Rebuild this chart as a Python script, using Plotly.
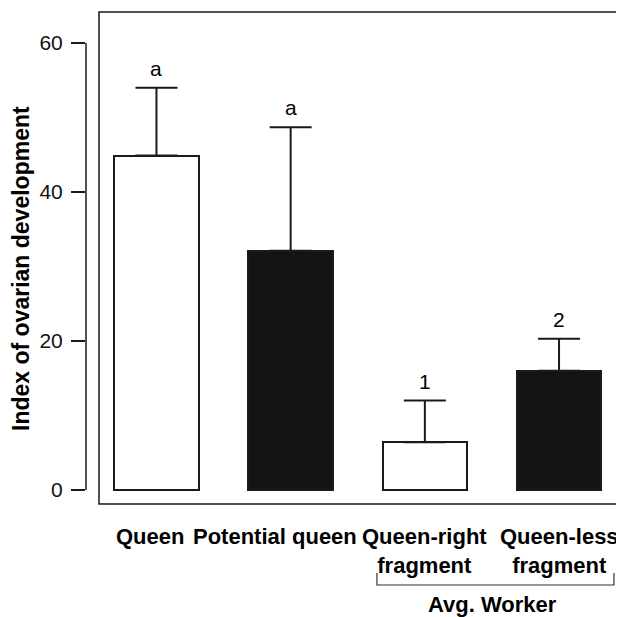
import plotly.graph_objects as go

categories = ["Queen", "Potential queen", "Queen-right<br>fragment", "Queen-less<br>fragment"]
means = [44.9, 32.1, 6.4, 16.0]
errors = [9.1, 16.6, 5.6, 4.3]
letters = ["a", "a", "1", "2"]
fills = ["white", "#141414", "white", "#141414"]
y_ticks = [0, 20, 40, 60]
group_label = "Avg. Worker"

FONT = "Liberation Sans, Arial, Helvetica, sans-serif"
INK = "#1a1a1a"

xpos = list(range(len(categories)))

PW = 546  # plot width in px
PH = 492  # plot height in px
XS = 134.2  # px per category

fig = go.Figure()
fig.add_trace(go.Bar(
    x=xpos, y=means, width=0.63,
    marker=dict(color=fills, line=dict(color=INK, width=2)),
    error_y=dict(type="data", symmetric=False, array=errors,
                 arrayminus=[0] * len(errors), color=INK,
                 thickness=2, width=21),
    showlegend=False, hoverinfo="skip",
))

for i, (m, e, t) in enumerate(zip(means, errors, letters)):
    fig.add_annotation(x=i, y=m + e, text=t, showarrow=False,
                       yanchor="bottom", yshift=6,
                       font=dict(family=FONT, size=21, color="#000"))

# category labels (first two are shifted left in the original to avoid overlap)
label_anchor = [("left", -0.317), ("left", 0.257), ("center", 2.0), ("center", 3.0)]
for c, (anc, lx) in zip(categories, label_anchor):
    fig.add_annotation(x=lx, y=-0.036, xref="x", yref="paper", text=f"<b>{c}</b>",
                       showarrow=False, xanchor=anc, yanchor="top",
                       font=dict(family=FONT, size=22, color="#000"))

# y axis line (0..60), offset from frame
fig.add_shape(type="line", xref="paper", yref="y", x0=0, x1=0,
              y0=y_ticks[0], y1=y_ticks[-1], line=dict(color=INK, width=1.5))

# frame (open at the right edge of the image)
fx = 13 / PW
fig.add_shape(type="path", xref="paper", yref="paper",
              path=f"M 1.05,1 L {fx},1 L {fx},0 L 1.05,0",
              line=dict(color=INK, width=1.5))

# bracket under worker groups
fig.add_shape(type="path", xref="x", yref="paper",
              path="M 1.643,-0.140 L 1.643,-0.1646 L 3.409,-0.1646 L 3.409,-0.140",
              line=dict(color="#333", width=1.2))
fig.add_annotation(x=2.507, y=-0.205, xref="x", yref="paper", text=f"<b>{group_label}</b>",
                   showarrow=False, xanchor="center", yanchor="middle",
                   font=dict(family=FONT, size=22, color="#000"))

# y title
fig.add_annotation(x=(21 - 86) / PW, y=(504 - 269) / PH, xref="paper", yref="paper",
                   text="<b>Index of ovarian development</b>", textangle=-90,
                   showarrow=False, xanchor="center", yanchor="middle",
                   font=dict(family=FONT, size=23, color="#000"))

fig.update_layout(
    template="none",
    width=624, height=617,
    margin=dict(l=78, r=0, t=4, b=121, autoexpand=False),
    paper_bgcolor="white", plot_bgcolor="white",
    font=dict(family=FONT, color="#000"),
    bargap=0,
    xaxis=dict(range=[-0.525, -0.525 + PW / XS], tickmode="array", tickvals=xpos,
               showticklabels=False, automargin=False,
               showgrid=False, zeroline=False, showline=False, ticks=""),
    yaxis=dict(range=[-14 / 7.45, 478 / 7.45], tickmode="array", tickvals=y_ticks,
               tickfont=dict(size=21, family=FONT, color="#111"),
               ticks="outside", ticklen=14, tickwidth=1.5, tickcolor=INK,
               automargin=False,
               showgrid=False, zeroline=False, showline=False,
               ticklabelstandoff=4),
)

fig.write_html("out.html")
